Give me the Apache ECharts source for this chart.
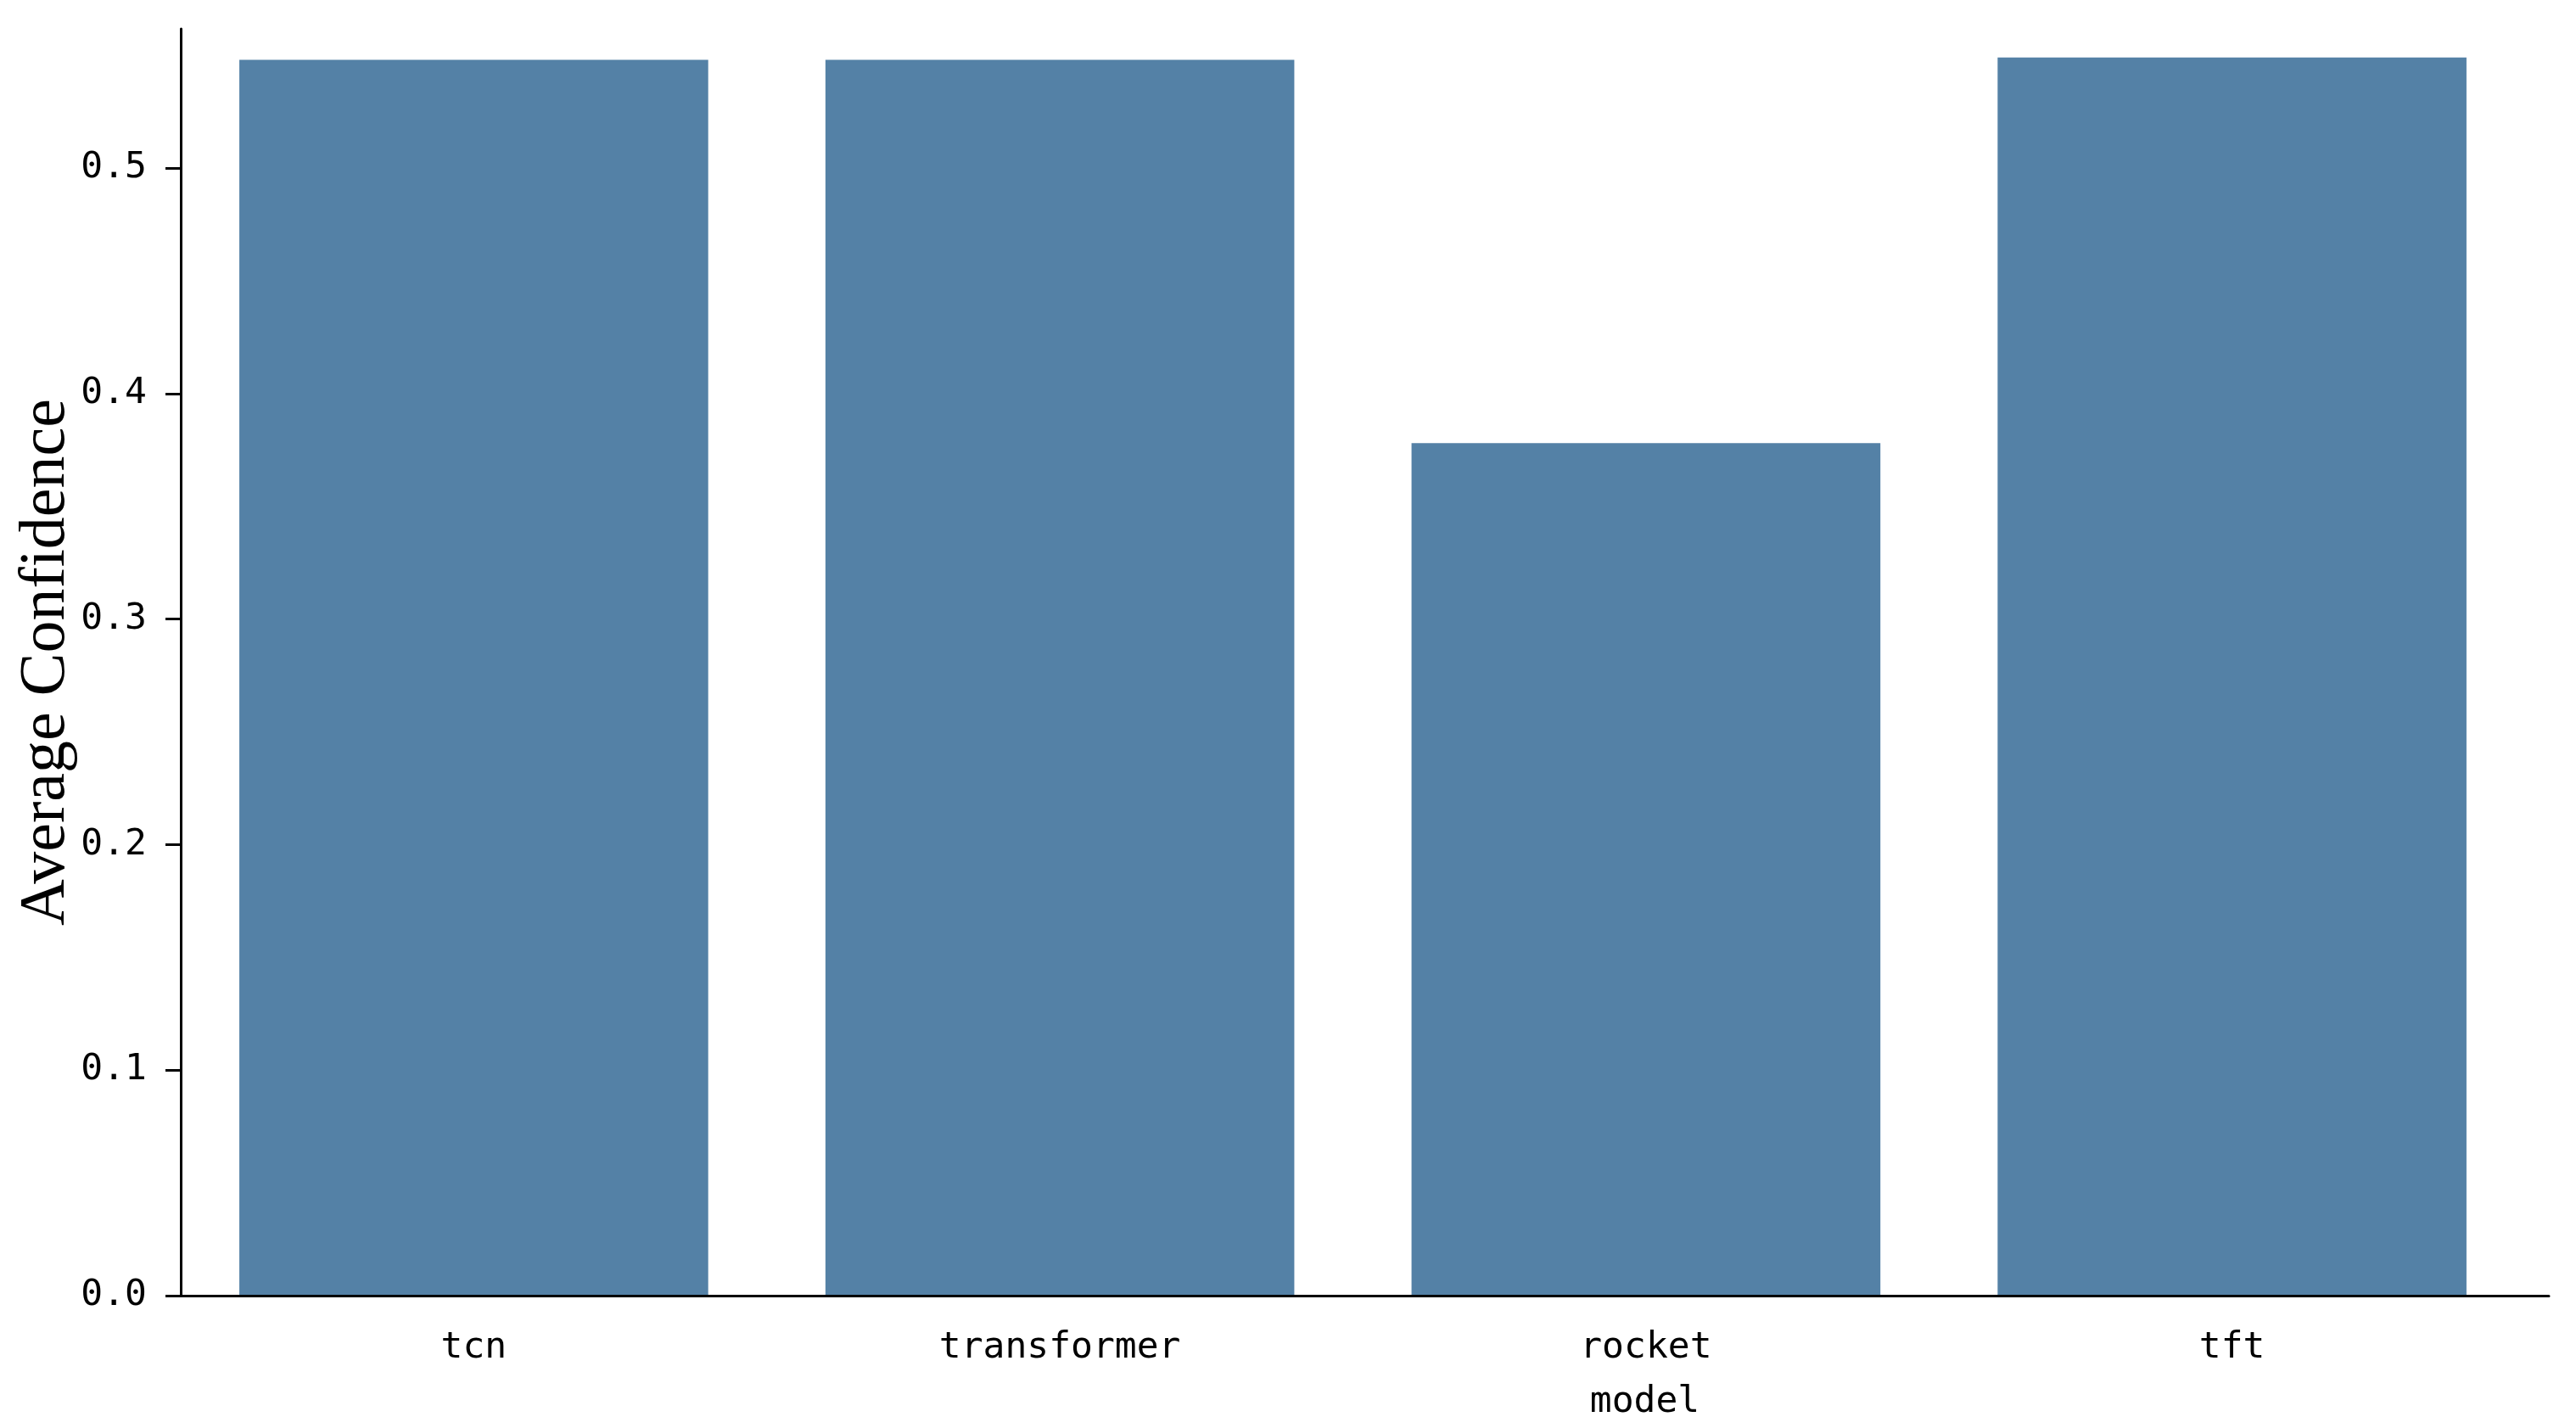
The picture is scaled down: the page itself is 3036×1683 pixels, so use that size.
<!DOCTYPE html>
<html>
<head>
<meta charset="utf-8">
<script src="https://cdn.jsdelivr.net/npm/echarts@6/dist/echarts.min.js"></script>
<style>
  html, body { margin: 0; padding: 0; background: #fff; }
  #chart { width: 3036px; height: 1683px; }
</style>
</head>
<body>
<div id="chart"></div>
<script>
// data
const models = ['tcn', 'transformer', 'rocket', 'tft']
const avgConfidence = [0.548, 0.548, 0.378, 0.549]
const yTicks = [0, 0.1, 0.2, 0.3, 0.4, 0.5]
const yTop = 0.5617

const tickFont = '"DejaVu Sans Mono", "Liberation Mono", monospace'

const chart = echarts.init(document.getElementById('chart'))

const option = {
  backgroundColor: '#ffffff',
  animation: false,
  grid: [
    { left: 213, right: 60, top: 34, bottom: 156 },
    // wider grid only used to draw the x axis line a little past the last band
    { left: 213, right: 32, top: 34, bottom: 156 }
  ],
  xAxis: [
    {
      type: 'category',
      gridIndex: 0,
      data: models,
      z: 5,
      name: 'model',
      nameLocation: 'middle',
      nameGap: 104,
      nameTextStyle: {
        fontFamily: tickFont,
        fontSize: 43,
        color: '#000',
        padding: [0, 0, 0, 688]
      },
      axisLine: { show: false },
      axisTick: {
        alignWithLabel: true,
        length: 19,
        lineStyle: { color: '#000', width: 3 }
      },
      axisLabel: {
        margin: 40,
        fontFamily: tickFont,
        fontSize: 43,
        color: '#000'
      },
      splitLine: { show: false }
    },
    {
      type: 'value',
      gridIndex: 1,
      min: 0,
      max: 1,
      z: 5,
      axisLine: { show: true, onZero: false, lineStyle: { color: '#000', width: 3 } },
      axisTick: { show: false },
      axisLabel: { show: false },
      splitLine: { show: false }
    }
  ],
  yAxis: [
    {
      type: 'value',
      gridIndex: 0,
      min: 0,
      max: yTop,
      z: 5,
      name: 'Average Confidence',
      nameLocation: 'middle',
      nameMoveOverlap: false,
      nameGap: 120,
      nameTextStyle: {
        fontFamily: '"Liberation Serif", "Times New Roman", serif',
        fontSize: 76,
        color: '#000'
      },
      axisLine: { show: true, lineStyle: { color: '#000', width: 3 } },
      axisTick: {
        show: true,
        length: 18,
        customValues: yTicks,
        lineStyle: { color: '#000', width: 3 }
      },
      axisLabel: {
        margin: 40,
        customValues: yTicks,
        fontFamily: tickFont,
        fontSize: 43,
        color: '#000',
        formatter: v => v.toFixed(1)
      },
      splitLine: { show: false }
    },
    {
      type: 'value',
      gridIndex: 1,
      min: 0,
      max: 1,
      show: false
    }
  ],
  series: [
    {
      type: 'bar',
      xAxisIndex: 0,
      yAxisIndex: 0,
      data: avgConfidence,
      barWidth: '80%',
      itemStyle: { color: '#5481a6' }
    }
  ]
}

chart.setOption(option)
</script>
</body>
</html>
